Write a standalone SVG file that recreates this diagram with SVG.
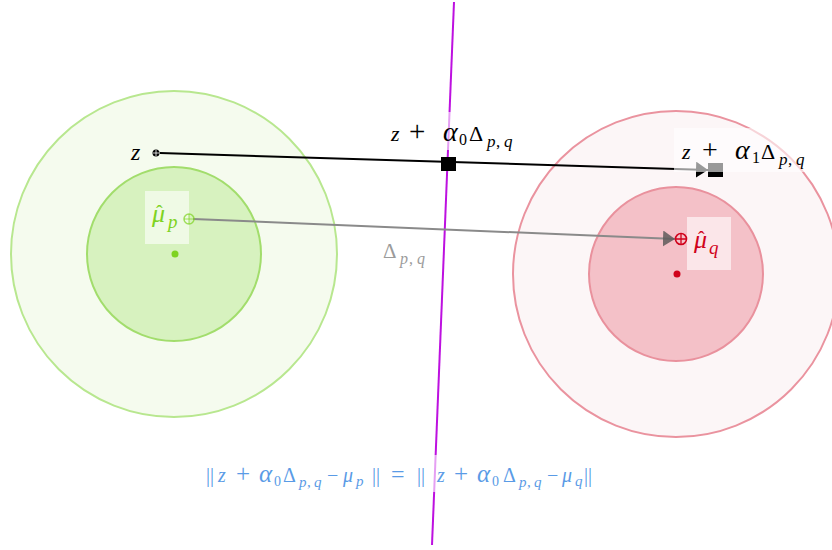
<svg xmlns="http://www.w3.org/2000/svg" width="832" height="550" viewBox="0 0 832 550">
<defs>
<style>
text{font-family:"Liberation Serif","DejaVu Serif",serif}
.i{font-style:italic}
.box{fill:#ffffff;fill-opacity:0.6}
</style>
<marker id="arrB" markerWidth="12" markerHeight="16" refX="12" refY="8" orient="auto" markerUnits="userSpaceOnUse"><path d="M0,0 L12,8 L0,16 Z" fill="#000"/></marker>
<marker id="arrG" markerWidth="12" markerHeight="16" refX="12" refY="8" orient="auto" markerUnits="userSpaceOnUse"><path d="M0,0 L12,8 L0,16 Z" fill="#5e5a5a" fill-opacity="0.85"/></marker>
</defs>
<rect width="832" height="550" fill="#fff"/>
<g id="clusterP">
<circle cx="174" cy="254" r="163" fill="#f5fbee" stroke="#b8e78f" stroke-width="2"/>
<circle cx="174" cy="254" r="87" fill="#d7f2bf" stroke="#a2dd6c" stroke-width="2"/>
<circle cx="175" cy="254" r="3.5" fill="#7ed321"/>
</g>
<g id="clusterQ">
<circle cx="676" cy="274" r="163" fill="#fcf6f7" stroke="#ea939f" stroke-width="2"/>
<circle cx="676" cy="274" r="87" fill="#f4c1c8" stroke="#e9919d" stroke-width="2"/>
<circle cx="677" cy="274" r="3.5" fill="#d0021b"/>
</g>
<g id="connectors">
<line x1="454" y1="2" x2="432" y2="545" stroke="#bd10e0" stroke-width="2"/>
<line x1="160" y1="153" x2="708" y2="170" stroke="#000" stroke-width="2" marker-end="url(#arrB)"/>
<line x1="193" y1="219" x2="675" y2="239" stroke="#8a8a8a" stroke-width="2" marker-end="url(#arrG)"/>
</g>
<g id="midpoint"><rect x="441" y="157" width="15" height="14" fill="#000"/></g>
<g id="endpoint"><rect x="708" y="163" width="15" height="14" fill="#000"/></g>
<g id="z">
<circle cx="156" cy="153" r="3.5" fill="#000"/>
<path d="M153,153 h6 M156,150 v6" stroke="#fff" stroke-width="0.8"/>
<text class="i" x="131" y="160" style="font-size:24px">z</text>
</g>
<g id="muP">
<rect class="box" x="145" y="191" width="44" height="53"/>
<circle cx="189" cy="219" r="5" fill="none" stroke="#7ed321" stroke-width="1.5" stroke-opacity="0.7"/>
<path d="M184,219 h10 M189,214 v10" stroke="#7ed321" stroke-width="1" stroke-opacity="0.7"/>
<text fill="#7ed321" style="font-size:26px"><tspan class="i" x="152" y="222">μ</tspan><tspan x="156" y="220" style="font-size:20px">ˆ</tspan><tspan class="i" x="168" y="228" style="font-size:19px">p</tspan></text>
</g>
<g id="muQ">
<rect class="box" x="687" y="217" width="44" height="53"/>
<circle cx="681" cy="239" r="5.5" fill="none" stroke="#d0021b" stroke-width="1.6"/>
<path d="M675.5,239 h11 M681,233.5 v11" stroke="#d0021b" stroke-width="1.3"/>
<text fill="#d0021b" style="font-size:26px"><tspan class="i" x="694" y="248">μ</tspan><tspan x="698" y="246" style="font-size:20px">ˆ</tspan><tspan class="i" x="709" y="254" style="font-size:19px">q</tspan></text>
</g>
<g id="label0">
<rect class="box" x="385" y="112" width="140" height="38"/>
<text y="141" style="font-size:22px"><tspan class="i" x="391">z</tspan><tspan x="409" style="font-size:29px">+</tspan><tspan class="i" x="443" style="font-size:28px">α</tspan><tspan x="459" dy="4" style="font-size:16px">0</tspan><tspan x="469" dy="-4">Δ</tspan><tspan class="i" x="487" dy="6" style="font-size:17px">p</tspan><tspan x="496" style="font-size:17px">,</tspan><tspan class="i" x="504" style="font-size:17px">q</tspan></text>
</g>
<g id="label1">
<rect class="box" x="674" y="128" width="158" height="44"/>
<text y="159" style="font-size:22px"><tspan class="i" x="682">z</tspan><tspan x="702" style="font-size:28px">+</tspan><tspan class="i" x="735" style="font-size:28px">α</tspan><tspan x="752" dy="4" style="font-size:16px">1</tspan><tspan x="761" dy="-4">Δ</tspan><tspan class="i" x="779" dy="6" style="font-size:17px">p</tspan><tspan x="788" style="font-size:17px">,</tspan><tspan class="i" x="796" style="font-size:17px">q</tspan></text>
</g>
<g id="labelDelta">
<text y="258" fill="#9b9b9b" style="font-size:21px"><tspan x="383">Δ</tspan><tspan class="i" x="400" dy="6" style="font-size:16px">p</tspan><tspan x="409" style="font-size:16px">,</tspan><tspan class="i" x="417" style="font-size:16px">q</tspan></text>
</g>
<g id="formula">
<rect class="box" x="200" y="455" width="400" height="37"/>
<text y="482" fill="#5a9be6" style="font-size:20px"><tspan x="206">||</tspan><tspan class="i" x="218">z</tspan><tspan x="236" style="font-size:25px">+</tspan><tspan class="i" x="259" style="font-size:25px">α</tspan><tspan x="274" dy="4" style="font-size:14px">0</tspan><tspan x="283" dy="-4">Δ</tspan><tspan class="i" x="299" dy="5" style="font-size:15px">p</tspan><tspan x="307" style="font-size:15px">,</tspan><tspan class="i" x="314" style="font-size:15px">q</tspan><tspan x="327" dy="-5">−</tspan><tspan class="i" x="343">μ</tspan><tspan class="i" x="356" dy="4" style="font-size:15px">p</tspan><tspan x="372" dy="-4">||</tspan><tspan x="391" style="font-size:24px">=</tspan><tspan x="417">||</tspan><tspan class="i" x="437">z</tspan><tspan x="454" style="font-size:25px">+</tspan><tspan class="i" x="477" style="font-size:25px">α</tspan><tspan x="492" dy="4" style="font-size:14px">0</tspan><tspan x="503" dy="-4">Δ</tspan><tspan class="i" x="519" dy="5" style="font-size:15px">p</tspan><tspan x="527" style="font-size:15px">,</tspan><tspan class="i" x="534" style="font-size:15px">q</tspan><tspan x="547" dy="-5">−</tspan><tspan class="i" x="562">μ</tspan><tspan class="i" x="575" dy="4" style="font-size:15px">q</tspan><tspan x="584" dy="-4">||</tspan></text>
</g>
</svg>
